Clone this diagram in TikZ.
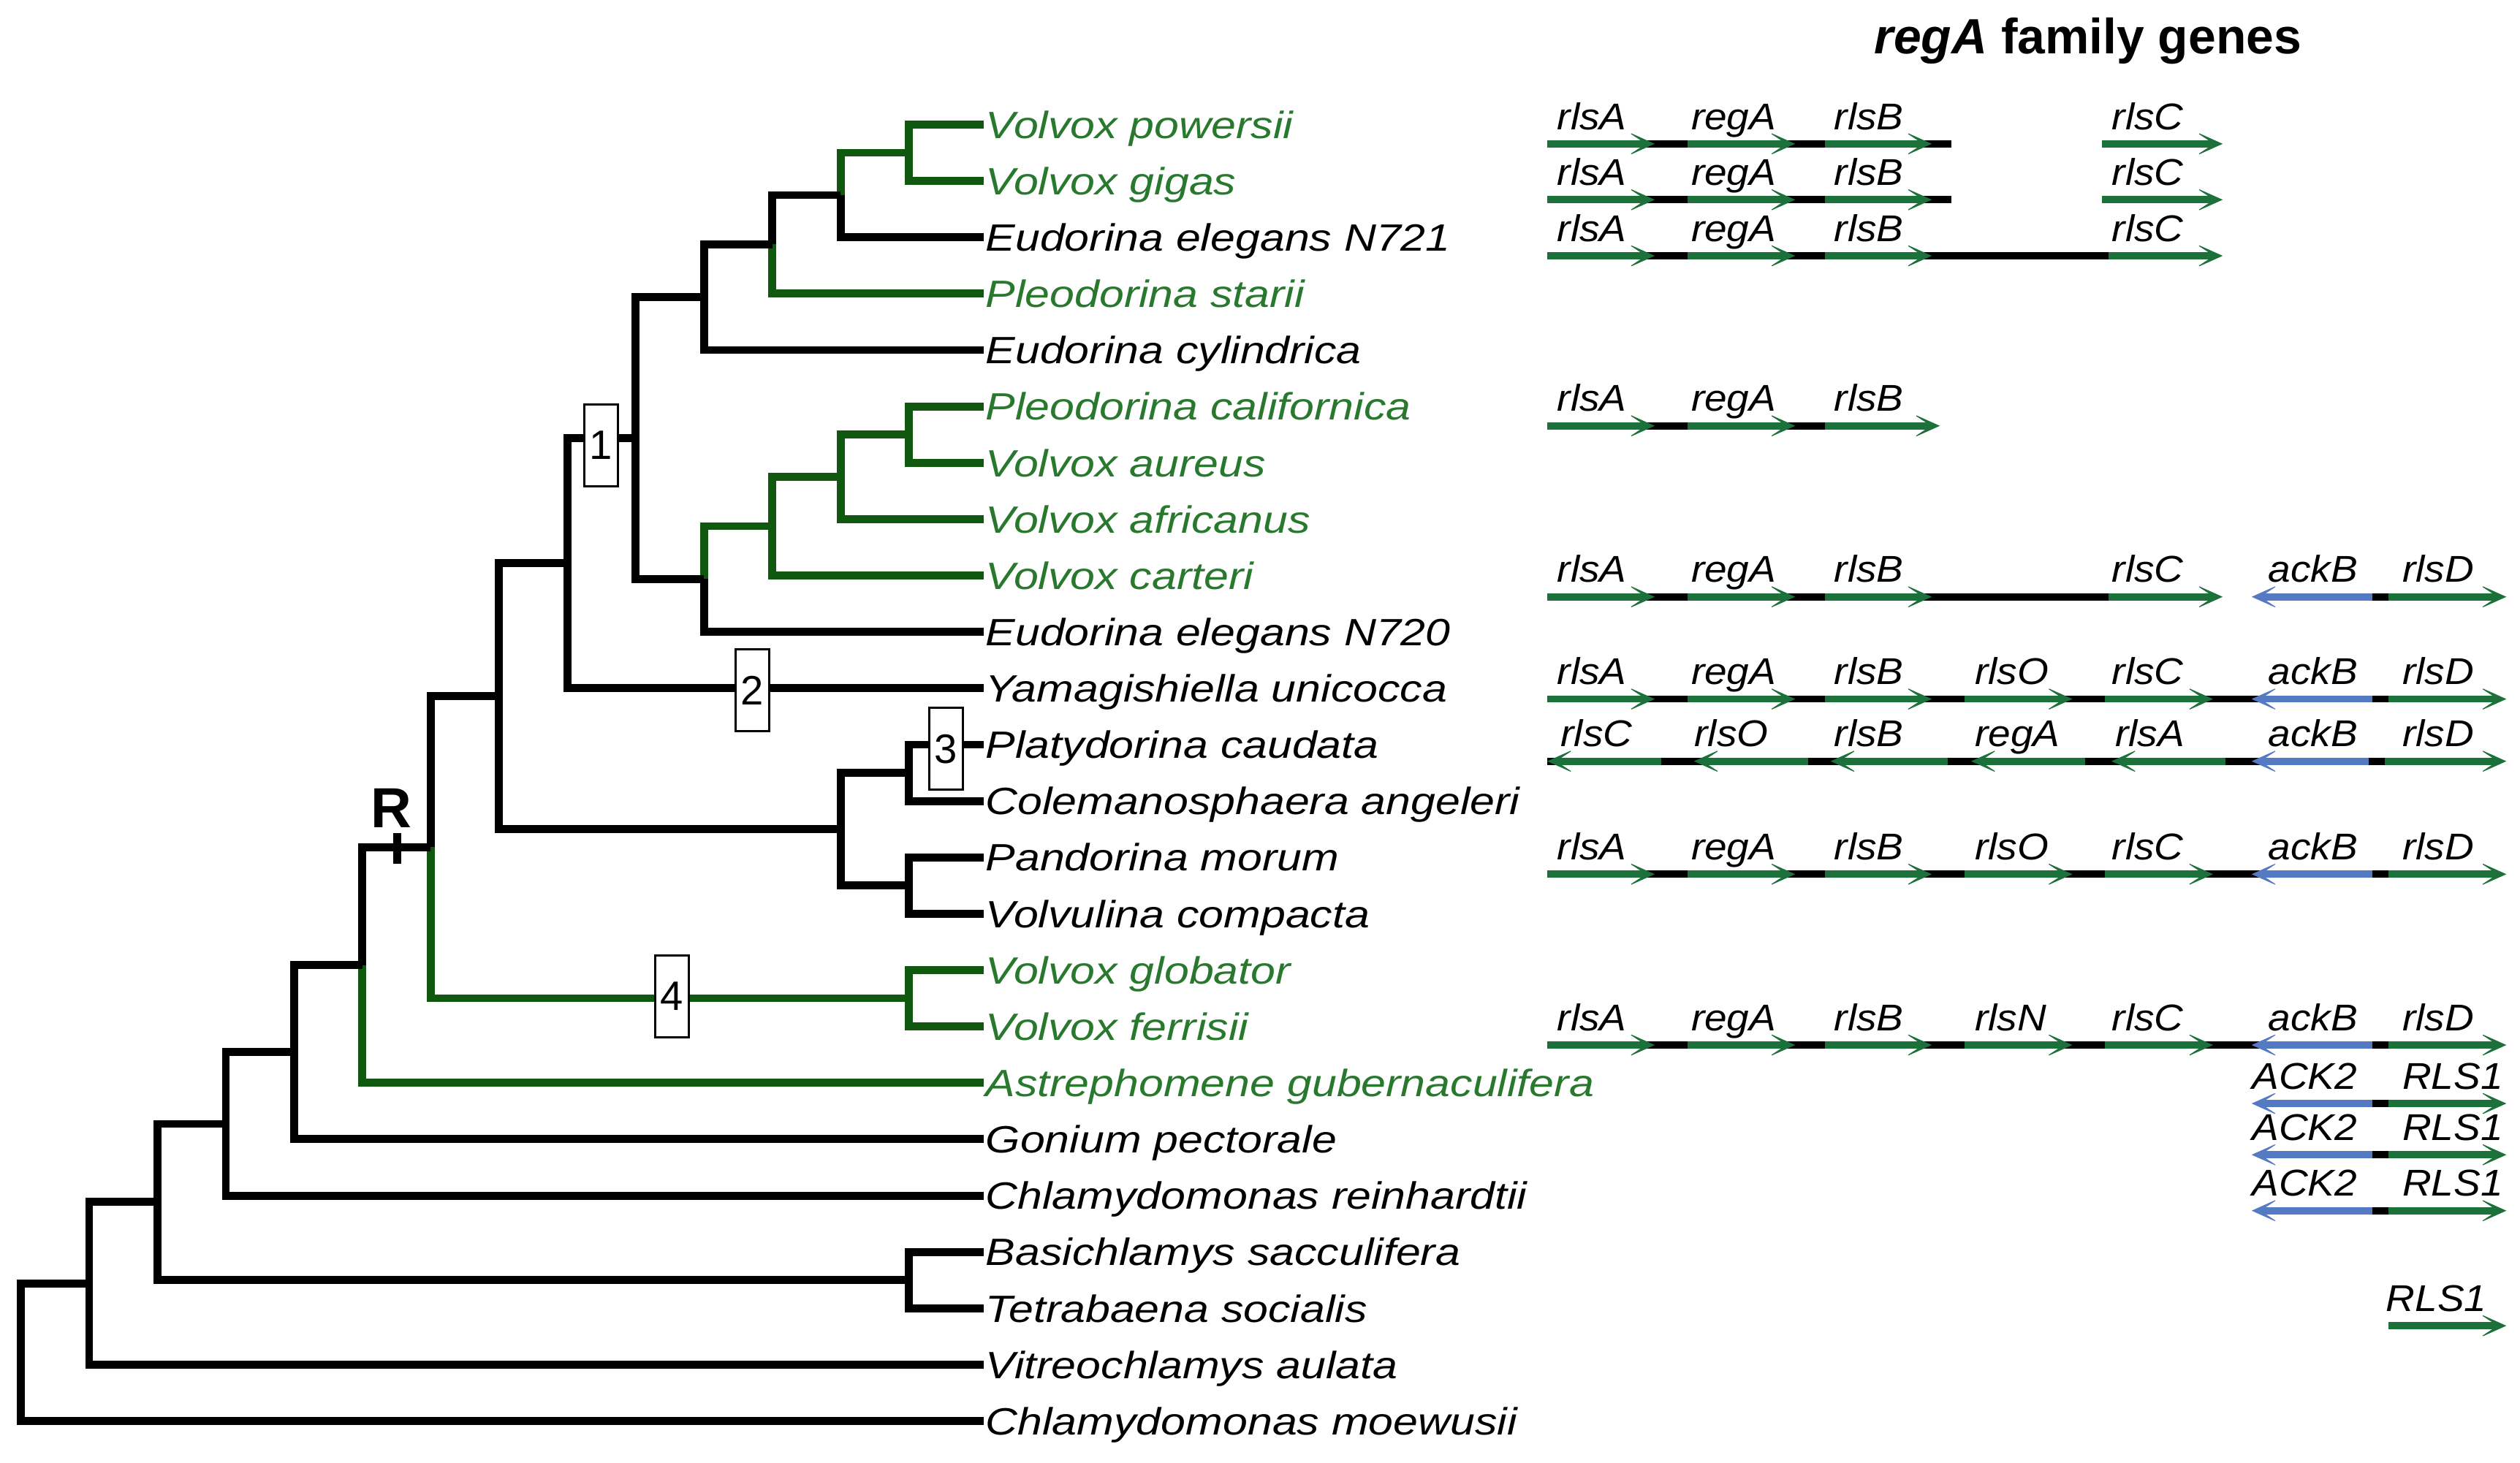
\documentclass[tikz,border=0pt]{standalone}
\usepackage{fontspec}
\setmainfont{Liberation Sans}
\newfontfamily\leaffont[FakeStretch=1.17]{Liberation Sans}
\newfontfamily\genefont[FakeStretch=1.08]{Liberation Sans}
\usetikzlibrary{arrows.meta}
\definecolor{treegreen}{RGB}{16,88,16}
\definecolor{textgreen}{RGB}{40,120,45}
\definecolor{genegreen}{RGB}{28,112,58}
\definecolor{geneblue}{RGB}{84,122,196}
\tikzset{
  br/.style={line width=3.1pt, line join=miter, line cap=butt},
  blk/.style={br, draw=black},
  grn/.style={br, draw=treegreen},
  leaf/.style={anchor=base west, inner sep=0pt, font=\leaffont\itshape\fontsize{14.8}{16}\selectfont},
  gleaf/.style={leaf, text=textgreen},
  numbox/.style={draw=black, line width=0.8pt, fill=white, minimum width=0.46cm, minimum height=1.12cm, inner sep=0pt, font=\fontsize{16}{16}\selectfont},
  glab/.style={anchor=base west, inner sep=0pt, font=\genefont\itshape\fontsize{14.5}{16}\selectfont},
  gline/.style={line width=2.8pt, draw=black},
  gtip/.style={-{Stealth[length=0.38cm,width=0.34cm,inset=0.26cm,line width=0.3pt]}},
  gf/.style={line width=2.8pt, draw=genegreen, gtip},
  gb/.style={line width=2.8pt, draw=geneblue, gtip},
}
\begin{document}
\begin{tikzpicture}[x=0.02199cm, y=-0.02199cm]
\useasboundingbox (0,0) rectangle (1568,910);

% ---------- leaf coordinates ----------
\coordinate (l1) at (612,77.5);
\coordinate (l2) at (612,112.6);
\coordinate (l3) at (612,147.7);
\coordinate (l4) at (612,182.7);
\coordinate (l5) at (612,217.8);
\coordinate (l6) at (612,252.9);
\coordinate (l7) at (612,288.0);
\coordinate (l8) at (612,323.1);
\coordinate (l9) at (612,358.1);
\coordinate (l10) at (612,393.2);
\coordinate (l11) at (612,428.3);
\coordinate (l12) at (612,463.4);
\coordinate (l13) at (612,498.5);
\coordinate (l14) at (612,533.5);
\coordinate (l15) at (612,568.6);
\coordinate (l16) at (612,603.7);
\coordinate (l17) at (612,638.8);
\coordinate (l18) at (612,673.9);
\coordinate (l19) at (612,708.9);
\coordinate (l20) at (612,744.0);
\coordinate (l21) at (612,779.1);
\coordinate (l22) at (612,814.2);
\coordinate (l23) at (612,849.3);
\coordinate (l24) at (612,884.4);

% ---------- internal nodes ----------
\coordinate (npg) at (565.5,95.05);
\coordinate (npgN) at (523,121.4);
\coordinate (nst) at (480.5,152.05);
\coordinate (ncy) at (438,184.9);
\coordinate (nca) at (565.5,270.45);
\coordinate (naf) at (523,296.8);
\coordinate (nct) at (480.5,327.4);
\coordinate (nN) at (438,360.3);
\coordinate (n1) at (395.5,272.6);
\coordinate (nY) at (353,350.5);
\coordinate (nPC) at (565.5,481.0);
\coordinate (nPV) at (565.5,551.0);
\coordinate (nPL) at (523,516.0);
\coordinate (nA) at (310.5,433.2);
\coordinate (nVG) at (565.5,621.2);
\coordinate (nR) at (268,527.2);
\coordinate (nAs) at (225.5,600.6);
\coordinate (nG) at (183,654.7);
\coordinate (nCr) at (140.5,699.4);
\coordinate (nBT) at (565.5,796.6);
\coordinate (nB) at (98,748.0);
\coordinate (nV) at (55.5,798.7);
\coordinate (root) at (13,841.5);

% ---------- tree ----------
\draw[grn] (npg) |- (l1);
\draw[grn] (npg) |- (l2);
\draw[grn] (npgN) |- (npg);
\draw[blk] (npgN) |- (l3);
\draw[blk] (nst) |- (npgN);
\draw[grn] (nst) |- (l4);
\draw[blk] (ncy) |- (nst);
\draw[blk] (ncy) |- (l5);
\draw[grn] (nca) |- (l6);
\draw[grn] (nca) |- (l7);
\draw[grn] (naf) |- (nca);
\draw[grn] (naf) |- (l8);
\draw[grn] (nct) |- (naf);
\draw[grn] (nct) |- (l9);
\draw[grn] (nN) |- (nct);
\draw[blk] (nN) |- (l10);
\draw[blk] (n1) |- (ncy);
\draw[blk] (n1) |- (nN);
\draw[blk] (nY) |- (n1);
\draw[blk] (nY) |- (l11);
\draw[blk] (nPC) |- (l12);
\draw[blk] (nPC) |- (l13);
\draw[blk] (nPV) |- (l14);
\draw[blk] (nPV) |- (l15);
\draw[blk] (nPL) |- (nPC);
\draw[blk] (nPL) |- (nPV);
\draw[blk] (nA) |- (nY);
\draw[blk] (nA) |- (nPL);
\draw[grn] (nVG) |- (l16);
\draw[grn] (nVG) |- (l17);
\draw[blk] (nR) |- (nA);
\draw[grn] (nR) |- (nVG);
\draw[blk] (nAs) |- (nR);
\draw[grn] (nAs) |- (l18);
\draw[blk] (nG) |- (nAs);
\draw[blk] (nG) |- (l19);
\draw[blk] (nCr) |- (nG);
\draw[blk] (nCr) |- (l20);
\draw[blk] (nBT) |- (l21);
\draw[blk] (nBT) |- (l22);
\draw[blk] (nB) |- (nCr);
\draw[blk] (nB) |- (nBT);
\draw[blk] (nV) |- (nB);
\draw[blk] (nV) |- (l23);
\draw[blk] (root) |- (nV);
\draw[blk] (root) |- (l24);

% ---------- R mark ----------
\coordinate (Rtop) at (247,518.5);
\coordinate (Rbot) at (247,537.5);
\draw[blk] (Rtop) -- (Rbot);
\node[anchor=base, inner sep=0pt, font=\bfseries\fontsize{22}{22}\selectfont] (Rlab) at (243.5,515) {R};

% ---------- numbered boxes ----------
\node[numbox] (b1) at (374,277) {1};
\node[numbox] (b2) at (468,429.5) {2};
\node[numbox] (b3) at (588.5,466) {3};
\node[numbox] (b4) at (418,620) {4};

% ---------- leaf labels ----------
\node[gleaf] (t1) at (613,86.0) {Volvox powersii};
\node[gleaf] (t2) at (613,121.1) {Volvox gigas};
\node[leaf] (t3) at (613,156.2) {Eudorina elegans N721};
\node[gleaf] (t4) at (613,191.2) {Pleodorina starii};
\node[leaf] (t5) at (613,226.3) {Eudorina cylindrica};
\node[gleaf] (t6) at (613,261.4) {Pleodorina californica};
\node[gleaf] (t7) at (613,296.5) {Volvox aureus};
\node[gleaf] (t8) at (613,331.6) {Volvox africanus};
\node[gleaf] (t9) at (613,366.6) {Volvox carteri};
\node[leaf] (t10) at (613,401.7) {Eudorina elegans N720};
\node[leaf] (t11) at (613,436.8) {Yamagishiella unicocca};
\node[leaf] (t12) at (613,471.9) {Platydorina caudata};
\node[leaf] (t13) at (613,507.0) {Colemanosphaera angeleri};
\node[leaf] (t14) at (613,542.0) {Pandorina morum};
\node[leaf] (t15) at (613,577.1) {Volvulina compacta};
\node[gleaf] (t16) at (613,612.2) {Volvox globator};
\node[gleaf] (t17) at (613,647.3) {Volvox ferrisii};
\node[gleaf] (t18) at (613,682.4) {Astrephomene gubernaculifera};
\node[leaf] (t19) at (613,717.4) {Gonium pectorale};
\node[leaf] (t20) at (613,752.5) {Chlamydomonas reinhardtii};
\node[leaf] (t21) at (613,787.6) {Basichlamys sacculifera};
\node[leaf] (t22) at (613,822.7) {Tetrabaena socialis};
\node[leaf] (t23) at (613,857.8) {Vitreochlamys aulata};
\node[leaf] (t24) at (613,892.9) {Chlamydomonas moewusii};

% ---------- title ----------
\node[anchor=base west, inner sep=0pt, font=\bfseries\fontsize{19.3}{20}\selectfont] (title) at (1166,33.2) {\textit{regA} family genes};

% ---------- gene rows ----------
% row: Volvox powersii
\draw[gline] (962.7,89.5) -- (1214,89.5);
\foreach \a/\b in {962.7/1029.6,1050/1117,1135.5/1202,1307.8/1383} \draw[gf] (\a,89.5) -- (\b,89.5);
\foreach \x/\t in {968.7/rlsA,1052/regA,1141/rlsB,1313.8/rlsC} \node[glab] (ga\t) at (\x,80.5) {\t};
% row: Volvox gigas
\draw[gline] (962.7,124.3) -- (1214,124.3);
\foreach \a/\b in {962.7/1029.6,1050/1117,1135.5/1202,1307.8/1383} \draw[gf] (\a,124.3) -- (\b,124.3);
\foreach \x/\t in {968.7/rlsA,1052/regA,1141/rlsB,1313.8/rlsC} \node[glab] (gb\t) at (\x,115.3) {\t};
% row: Eudorina elegans N721
\draw[gline] (962.7,159.2) -- (1314,159.2);
\foreach \a/\b in {962.7/1029.6,1050/1117,1135.5/1202,1312/1383} \draw[gf] (\a,159.2) -- (\b,159.2);
\foreach \x/\t in {968.7/rlsA,1052/regA,1141/rlsB,1313.8/rlsC} \node[glab] (gc\t) at (\x,150.2) {\t};
% row: Pleodorina californica
\draw[gline] (962.7,265) -- (1140,265);
\foreach \a/\b in {962.7/1029.6,1050/1117,1135.5/1207} \draw[gf] (\a,265) -- (\b,265);
\foreach \x/\t in {968.7/rlsA,1052/regA,1141/rlsB} \node[glab] (gd\t) at (\x,256) {\t};
% row: Volvox carteri
\draw[gline] (962.7,371.4) -- (1314,371.4);
\draw[gline] (1410,371.4) -- (1490,371.4);
\foreach \a/\b in {962.7/1029.6,1050/1117,1135.5/1202,1312/1383,1486/1559.5} \draw[gf] (\a,371.4) -- (\b,371.4);
\draw[gb] (1476,371.4) -- (1401,371.4);
\foreach \x/\t in {968.7/rlsA,1052/regA,1141/rlsB,1313.8/rlsC,1411/ackB,1494.5/rlsD} \node[glab] (ge\t) at (\x,362.4) {\t};
% row: Yamagishiella unicocca
\draw[gline] (962.7,435) -- (1490,435);
\foreach \a/\b in {962.7/1029.6,1050/1117,1135.5/1202,1222.5/1289.5,1309.8/1377,1486/1559.5} \draw[gf] (\a,435) -- (\b,435);
\draw[gb] (1476,435) -- (1401,435);
\foreach \x/\t in {968.7/rlsA,1052/regA,1141/rlsB,1228.6/rlsO,1313.8/rlsC,1411/ackB,1494.5/rlsD} \node[glab] (gf\t) at (\x,426) {\t};
% row: Platydorina caudata
\draw[gline] (962.7,473.7) -- (1490,473.7);
\foreach \a/\b in {1033.7/962.7,1125/1054,1212/1139,1297.6/1226.5,1384.9/1313.8} \draw[gf] (\a,473.7) -- (\b,473.7);
\draw[gb] (1474,473.7) -- (1401,473.7);
\draw[gf] (1484,473.7) -- (1559.5,473.7);
\foreach \x/\t in {970.8/rlsC,1054/rlsO,1141/rlsB,1228.6/regA,1315.9/rlsA,1411/ackB,1494.5/rlsD} \node[glab] (gg\t) at (\x,464.7) {\t};
% row: Pandorina morum
\draw[gline] (962.7,544) -- (1490,544);
\foreach \a/\b in {962.7/1029.6,1050/1117,1135.5/1202,1222.5/1289.5,1309.8/1377,1486/1559.5} \draw[gf] (\a,544) -- (\b,544);
\draw[gb] (1476,544) -- (1401,544);
\foreach \x/\t in {968.7/rlsA,1052/regA,1141/rlsB,1228.6/rlsO,1313.8/rlsC,1411/ackB,1494.5/rlsD} \node[glab] (gh\t) at (\x,535) {\t};
% row: Volvox ferrisii
\draw[gline] (962.7,650.3) -- (1490,650.3);
\foreach \a/\b in {962.7/1029.6,1050/1117,1135.5/1202,1222.5/1289.5,1309.8/1377,1486/1559.5} \draw[gf] (\a,650.3) -- (\b,650.3);
\draw[gb] (1476,650.3) -- (1401,650.3);
\foreach \x/\t in {968.7/rlsA,1052/regA,1141/rlsB,1228.6/rlsN,1313.8/rlsC,1411/ackB,1494.5/rlsD} \node[glab] (gi\t) at (\x,641.3) {\t};
% rows: ACK2 / RLS1
\foreach \y/\n in {686.7/j,718.6/k,753.4/m} {
  \draw[gline] (1410,\y) -- (1490,\y);
  \draw[gb] (1476,\y) -- (1401,\y);
  \draw[gf] (1486,\y) -- (1559.5,\y);
  \node[glab] (g\n ACK) at (1401,\y-9) {ACK2};
  \node[glab] (g\n RLS) at (1494.5,\y-9) {RLS1};
}
% row: Tetrabaena socialis
\draw[gf] (1486,825) -- (1559.5,825);
\node[glab] (gnRLS) at (1484.4,816) {RLS1};
\end{tikzpicture}
\end{document}
